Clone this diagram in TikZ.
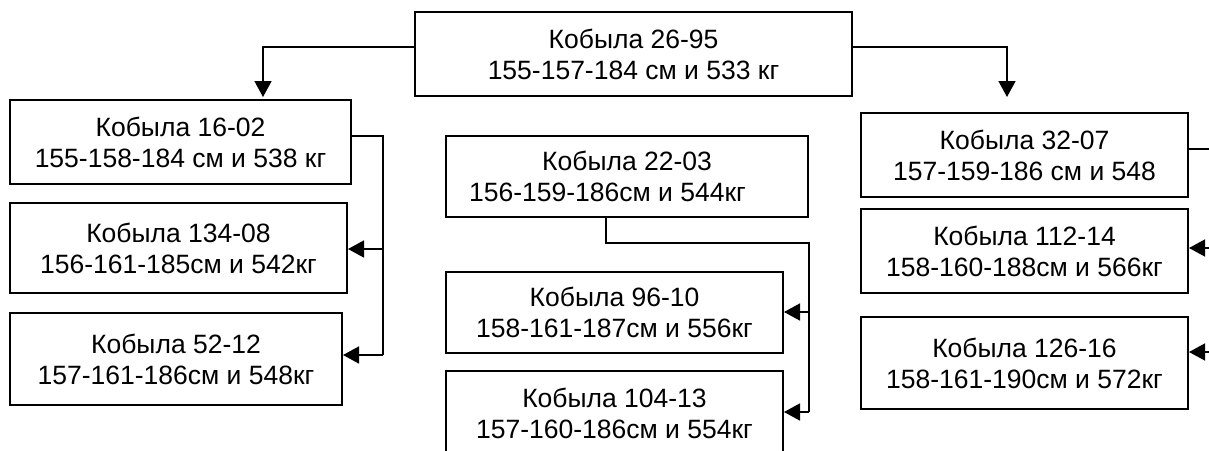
\documentclass[tikz,border=0pt]{standalone}
\usepackage{fontspec}
\setmainfont{Liberation Sans}
\usetikzlibrary{arrows.meta}
\begin{document}
\begin{tikzpicture}[x=1pt,y=-1pt,
  box/.style={draw, line width=2pt, align=center, inner sep=0pt,
    font=\fontsize{26.5}{31}\selectfont},
  conn/.style={line width=1.6pt},
  arr/.style={conn, -{Triangle[length=16pt,width=17pt]}}]
\useasboundingbox (0,0) rectangle (1209,450);
\clip (0,0) rectangle (1209,450);
\fill[white] (0,0) rectangle (1209,450);
% nodes
\node[box, minimum width=437pt, minimum height=84pt] (top) at (633.5,54) {Кобыла 26-95\\155-157-184 см и 533 кг};
\node[box, minimum width=341pt, minimum height=84pt] (b1) at (180.5,142) {Кобыла 16-02\\155-158-184 см и 538 кг};
\node[box, minimum width=337pt, minimum height=90pt] (b2) at (178.5,248) {Кобыла 134-08\\156-161-185см и 542кг};
\node[box, minimum width=332pt, minimum height=92pt] (b3) at (176,359) {Кобыла 52-12\\157-161-186см и 548кг};
\node[box, minimum width=362pt, minimum height=81pt] (m1) at (627,176.5) {Кобыла 22-03\\156-159-186см и 544кг\hspace*{39pt}};
\node[box, minimum width=337pt, minimum height=81pt] (m2) at (614.5,312.5) {Кобыла 96-10\\158-161-187см и 556кг};
\node[box, minimum width=337pt, minimum height=84pt] (m3) at (614.5,413) {Кобыла 104-13\\157-160-186см и 554кг};
\node[box, minimum width=327pt, minimum height=84pt] (r1) at (1024.5,155) {Кобыла 32-07\\157-159-186 см и 548};
\node[box, minimum width=327pt, minimum height=84pt] (r2) at (1024.5,251) {Кобыла 112-14\\158-160-188см и 566кг};
\node[box, minimum width=327pt, minimum height=92pt] (r3) at (1024.5,363) {Кобыла 126-16\\158-161-190см и 572кг};
% coordinates
\coordinate (a1) at (263,97);
\coordinate (a2) at (1007,97);
\coordinate (lm) at (383,249);
\coordinate (lb) at (383,355);
\coordinate (mt) at (809,243);
\coordinate (mm) at (809,312);
\coordinate (mb) at (809,412);
\coordinate (rt) at (1213,149);
\coordinate (rm) at (1213,248);
\coordinate (rb) at (1213,352);
% connectors
\draw[arr] ([yshift=7pt]top.west) -| (a1);
\draw[arr] ([yshift=7pt]top.east) -| (a2);
\draw[conn] ([yshift=6pt]b1.east) -| (lb);
\draw[arr] (lm) -- (lm -| b2.east);
\draw[arr] (lb) -- (lb -| b3.east);
\draw[conn] ([xshift=-21pt]m1.south) |- (mt) -- (mb);
\draw[arr] (mm) -- (mm -| m2.east);
\draw[arr] (mb) -- (mb -| m3.east);
\draw[conn] ([yshift=6pt]r1.east) -- (rt) -- (rb);
\draw[arr] (rm) -- (rm -| r2.east);
\draw[arr] (rb) -- (rb -| r3.east);
\end{tikzpicture}
\end{document}
